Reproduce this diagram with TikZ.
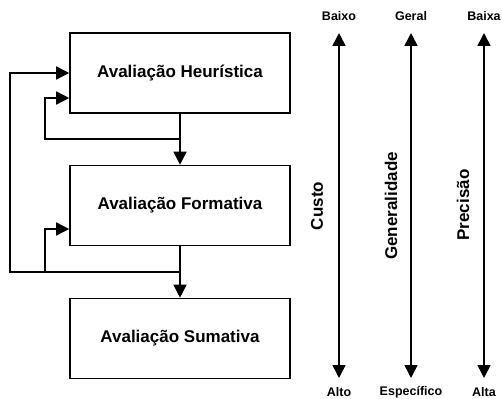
\documentclass[tikz,border=0pt]{standalone}
\usepackage{fontspec}
\setmainfont{Liberation Sans}
\usetikzlibrary{arrows.meta}
\usetikzlibrary{positioning}
\tikzstyle{every picture}+=[font=\bfseries]
\tikzstyle{etapa}=[draw, line width=1.6pt, minimum width=220pt, minimum height=80pt, inner sep=0pt, font=\fontsize{17}{20}\selectfont\bfseries]
\tikzstyle{seta}=[line width=1.5pt, -{Triangle[length=13pt,width=13pt]}]
\tikzstyle{eixo}=[line width=1.5pt, {Triangle[length=13pt,width=13pt]}-{Triangle[length=13pt,width=13pt]}]
\tikzstyle{extremo}=[inner sep=0pt, font=\fontsize{12.5}{14}\selectfont\bfseries]
\tikzstyle{criterio}=[inner sep=0pt, rotate=90, font=\fontsize{17}{20}\selectfont\bfseries]

\begin{document}
\begin{tikzpicture}[x=1pt, y=-1pt]
\useasboundingbox (0,0) rectangle (502,398);

%% etapas
\node[etapa] (heur) at (180,73) {Avaliação Heurística};
\node[etapa] (form) at (180,205.5) {Avaliação Formativa};
\node[etapa] (sum)  at (180,338.5) {Avaliação Sumativa};

%% ligações
\coordinate (r1) at (180,139);
\coordinate (r2) at (180,272);
\coordinate (e1) at (45,98);
\coordinate (e2) at (45,229);
\coordinate (e3) at (10,73);
\draw[seta] (heur.south) -- (form.north);
\draw[seta] (form.south) -- (sum.north);
\draw[seta] (r1) -| (e1) -- (e1 -| heur.west);
\draw[seta] (r2) -| (e3) -- (heur.west);
\draw[seta] (r2 -| e2) -- (e2) -- (e2 -| form.west);

%% eixos
\node[extremo] (baixo) at (339,16) {Baixo};
\node[extremo] (alto) at (339,392) {Alto};
\node[extremo] (geral) at (411,16) {Geral};
\node[extremo] (espec) at (411,392) {Específico};
\node[extremo] (baixa) at (484,16) {Baixa};
\node[extremo] (alta) at (484,392) {Alta};

\draw[eixo] (339,33) -- (339,378);
\draw[eixo] (411,33) -- (411,378);
\draw[eixo] (484,33) -- (484,378);

\node[criterio] (custo) at (317,206) {Custo};
\node[criterio] (gener) at (391,206) {Generalidade};
\node[criterio] (prec) at (463,205) {Precisão};

\end{tikzpicture}
\end{document}
